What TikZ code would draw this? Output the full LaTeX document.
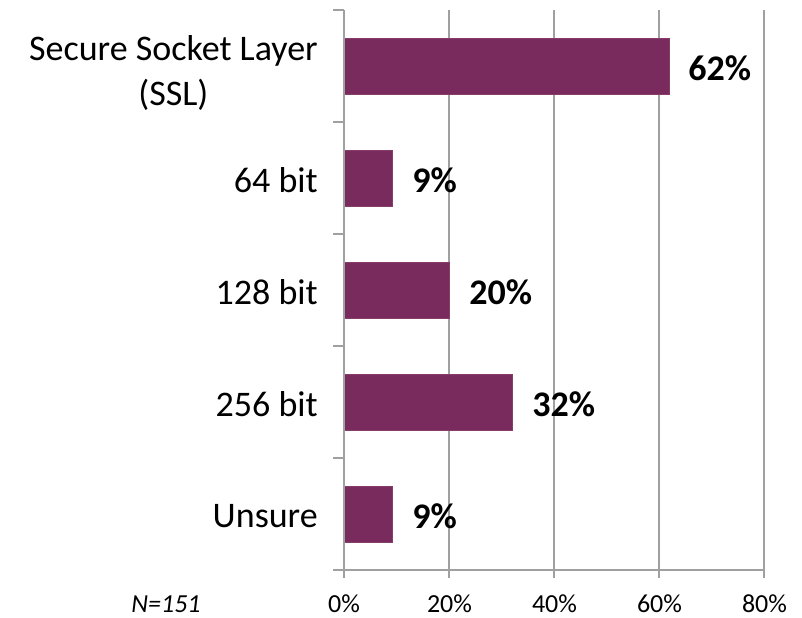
\documentclass[tikz,border=0pt]{standalone}
\usepackage{fontspec}
\setmainfont{Carlito}
\begin{document}
\begin{tikzpicture}[x=0.75pt,y=0.75pt,yscale=-1,xscale=1,
  axisline/.style={draw={rgb, 255:red, 160; green, 160; blue, 160}, line width=1.5},
  gridline/.style={draw={rgb, 255:red, 160; green, 160; blue, 160}, line width=1.1},
  barbox/.style={fill={rgb, 255:red, 122; green, 43; blue, 94}, draw={rgb, 255:red, 135; green, 60; blue, 108}, line width=0.5},
  catlabel/.style={anchor=east, inner sep=0pt, font=\fontsize{27}{33.75}\selectfont},
  vallabel/.style={anchor=west, inner sep=0pt, font=\fontsize{27}{33.75}\selectfont\bfseries},
  ticklabel/.style={anchor=base, inner sep=0pt, font=\fontsize{19.5}{22}\selectfont}]
\useasboundingbox (0,0) rectangle (802,617);

%Straight Lines [id:grid] 
\draw [gridline]   (449,10) -- (449,570) ;
\draw [gridline]   (554,10) -- (554,570) ;
\draw [gridline]   (659,10) -- (659,570) ;
\draw [gridline]   (764,10) -- (764,570) ;

%Shape: Rectangle [id:bars] 
\draw [barbox]  (344,38) rectangle (669,94) ;
\draw [barbox]  (344,150) rectangle (392,206) ;
\draw [barbox]  (344,262) rectangle (449,318) ;
\draw [barbox]  (344,374) rectangle (512,430) ;
\draw [barbox]  (344,486) rectangle (392,542) ;

%Straight Lines [id:yaxis] 
\draw [axisline]   (344,10) -- (344,570) ;
\draw [axisline]   (333,10) -- (344,10) ;
\draw [axisline]   (333,122) -- (344,122) ;
\draw [axisline]   (333,234) -- (344,234) ;
\draw [axisline]   (333,346) -- (344,346) ;
\draw [axisline]   (333,458) -- (344,458) ;
\draw [axisline]   (333,570) -- (344,570) ;
%Straight Lines [id:xaxis] 
\draw [axisline]   (344,570) -- (764,570) ;
\draw [axisline]   (344,570) -- (344,578) ;
\draw [axisline]   (449,570) -- (449,578) ;
\draw [axisline]   (554,570) -- (554,578) ;
\draw [axisline]   (659,570) -- (659,578) ;
\draw [axisline]   (764,570) -- (764,578) ;

% Text Node
\node (ssl) [catlabel, align=center] at (318,73) {Secure Socket Layer\\(SSL)};
% Text Node
\node (bit64) [catlabel] at (318,180) {64 bit};
% Text Node
\node (bit128) [catlabel] at (318,292) {128 bit};
% Text Node
\node (bit256) [catlabel] at (318,404) {256 bit};
% Text Node
\node (unsure) [catlabel] at (318,516) {Unsure};

% Text Node
\node (vssl) [vallabel] at (688,68) {62\%};
% Text Node
\node (v64) [vallabel] at (412,180) {9\%};
% Text Node
\node (v128) [vallabel] at (469,292) {20\%};
% Text Node
\node (v256) [vallabel] at (532,404) {32\%};
% Text Node
\node (vunsure) [vallabel] at (412,516) {9\%};

% Text Node
\node (t0) [ticklabel] at (344,612) {0\%};
% Text Node
\node (t20) [ticklabel] at (449.5,612) {20\%};
% Text Node
\node (t40) [ticklabel] at (554.5,612) {40\%};
% Text Node
\node (t60) [ticklabel] at (659.5,612) {60\%};
% Text Node
\node (t80) [ticklabel] at (764.5,612) {80\%};
% Text Node
\node (nsize) [ticklabel] at (166,612) {\itshape N=151};

\end{tikzpicture}
\end{document}
